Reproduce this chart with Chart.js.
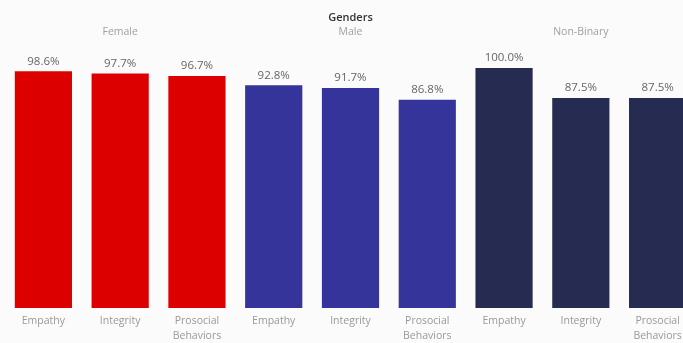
<!DOCTYPE html>
<html>
<head>
<meta charset="utf-8">
<script src="https://cdn.jsdelivr.net/npm/chart.js@4"></script>
<style>
  html, body { margin: 0; padding: 0; background: #fbfbfb; overflow: hidden; }
  #wrap { position: relative; width: 683px; height: 343px; overflow: hidden; }
  canvas { position: absolute; left: 0; top: 0; }
</style>
</head>
<body>
<div id="wrap"><canvas id="chart" width="696" height="343"></canvas></div>
<script>
// categories, grouped by gender
const traits = [['Empathy'], ['Integrity'], ['Prosocial', 'Behaviors']];
const genders = ['Female', 'Male', 'Non-Binary'];
const genderColors = ['#dc0000', '#35349b', '#262b51'];

const femaleValues = [98.6, 97.7, 96.7];
const maleValues = [92.8, 91.7, 86.8];
const nonBinaryValues = [100.0, 87.5, 87.5];

const labels = [];
const values = [];
const colors = [];
[femaleValues, maleValues, nonBinaryValues].forEach((vals, g) => {
  vals.forEach((v, i) => {
    labels.push(traits[i]);
    values.push(v);
    colors.push(genderColors[g]);
  });
});

const FONT = '"Open Sans", "Noto Sans", sans-serif';

// value labels above bars + gender headers
const annotate = {
  id: 'annotate',
  afterDatasetsDraw(chart) {
    const ctx = chart.ctx;
    const meta = chart.getDatasetMeta(0);
    ctx.save();
    ctx.textAlign = 'center';
    ctx.textBaseline = 'middle';
    ctx.font = '11.5px ' + FONT;
    ctx.fillStyle = '#666';
    meta.data.forEach((bar, i) => {
      ctx.fillText(values[i].toFixed(1) + '%', bar.x, bar.y - 10);
    });

    const x = chart.scales.x;
    ctx.font = '10.5px ' + FONT;
    ctx.fillStyle = '#a0a0a0';
    genders.forEach((g, gi) => {
      const cx = x.getPixelForValue(gi * 3 + 1);
      ctx.fillText(g, cx, 32);
    });
    ctx.font = '600 11px ' + FONT;
    ctx.fillStyle = '#333';
    ctx.fillText('Genders', x.getPixelForValue(4), 18);
    ctx.restore();
  }
};

new Chart(document.getElementById('chart'), {
  type: 'bar',
  data: {
    labels: labels,
    datasets: [{
      data: values,
      backgroundColor: colors,
      barPercentage: 0.745,
      categoryPercentage: 1.0
    }]
  },
  options: {
    responsive: false,
    animation: false,
    layout: { padding: { left: 5, right: 0, top: 68, bottom: -7 } },
    scales: {
      x: {
        grid: { display: false, drawTicks: false },
        border: { display: false },
        ticks: {
          color: '#999',
          font: { size: 10.5, family: FONT, lineHeight: '15px' },
          padding: 6,
          maxRotation: 0,
          minRotation: 0,
          autoSkip: false
        }
      },
      y: {
        display: false,
        min: 0,
        max: 100
      }
    },
    plugins: {
      legend: { display: false },
      tooltip: { enabled: false }
    }
  },
  plugins: [annotate]
});
</script>
</body>
</html>
